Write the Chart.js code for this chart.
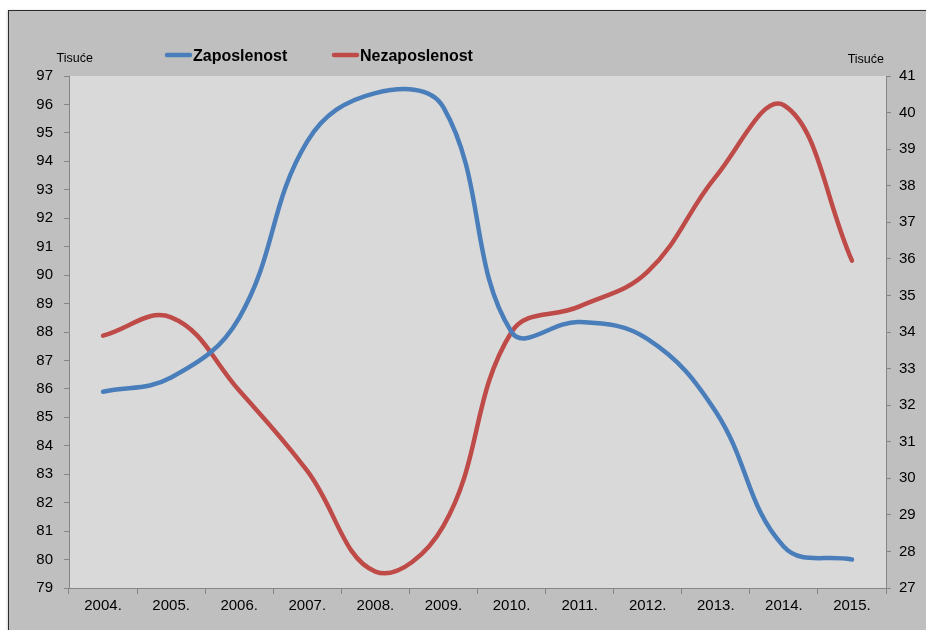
<!DOCTYPE html>
<html>
<head>
<meta charset="utf-8">
<script src="https://cdn.jsdelivr.net/npm/chart.js@4.4.1/dist/chart.umd.min.js"></script>
<style>
  html, body { margin: 0; padding: 0; background: #ffffff; }
  body { width: 926px; height: 630px; position: relative; overflow: hidden; }
  #frame {
    position: absolute; left: 8px; top: 10px; width: 940px; height: 640px;
    background: #bfbfbf; border-left: 1.5px solid #2b2b2b; border-top: 1.5px solid #2b2b2b;
    box-shadow: -1px 0 2px rgba(0,0,0,0.15);
  }
  #wrap { position: absolute; left: 0; top: 0; width: 926px; height: 630px; }
</style>
</head>
<body>
<div id="frame"></div>
<div id="wrap"><canvas id="c" width="926" height="630"></canvas></div>
<script>
const categories = ['2004.', '2005.', '2006.', '2007.', '2008.', '2009.', '2010.', '2011.', '2012.', '2013.', '2014.', '2015.'];
const zaposlenost = [85.9, 86.4, 88.5, 94.7, 96.4, 95.9, 88.0, 88.35, 87.75, 85.2, 80.45, 80.0];
const nezaposlenost = [33.9, 34.4, 32.4, 30.2, 27.45, 28.7, 34.0, 34.7, 35.65, 38.25, 40.2, 35.95];
const seriesNames = ['Zaposlenost', 'Nezaposlenost'];
const unitLabel = 'Tisuće';

const FONT = '"Liberation Sans", Arial, sans-serif';
const BLUE = '#4a7ebb';
const RED = '#be4b48';
const AXIS = '#868686';

const overlay = {
  id: 'overlay',
  beforeDraw(chart) {
    const { ctx, chartArea: a } = chart;
    ctx.save();
    ctx.fillStyle = '#d9d9d9';
    ctx.fillRect(a.left, a.top, a.right - a.left, a.bottom - a.top);
    ctx.restore();
  },
  afterDraw(chart) {
    const { ctx, chartArea: a } = chart;
    ctx.save();
    ctx.fillStyle = '#000';
    ctx.font = '12.5px ' + FONT;
    ctx.textBaseline = 'alphabetic';
    ctx.textAlign = 'left';
    ctx.fillText(unitLabel, a.left - 12.5, a.top - 14);
    ctx.textAlign = 'right';
    ctx.fillText(unitLabel, a.right - 2, a.top - 13);
    const items = [
      { x: 165, color: chart.data.datasets[0].borderColor, text: chart.data.datasets[0].label },
      { x: 332, color: chart.data.datasets[1].borderColor, text: chart.data.datasets[1].label }
    ];
    ctx.font = 'bold 16px ' + FONT;
    ctx.textAlign = 'left';
    items.forEach(it => {
      ctx.strokeStyle = it.color;
      ctx.lineWidth = 4.5;
      ctx.lineCap = 'round';
      ctx.beginPath();
      ctx.moveTo(it.x + 2, a.top - 21);
      ctx.lineTo(it.x + 25, a.top - 21);
      ctx.stroke();
      ctx.fillStyle = '#000';
      ctx.fillText(it.text, it.x + 28, a.top - 15);
    });
    ctx.restore();
  }
};

new Chart(document.getElementById('c'), {
  type: 'line',
  data: {
    labels: categories,
    datasets: [
      {
        label: seriesNames[0], data: zaposlenost, yAxisID: 'y',
        borderColor: BLUE, backgroundColor: BLUE, borderWidth: 4.5,
        borderCapStyle: 'round', borderJoinStyle: 'round',
        pointRadius: 0, pointHoverRadius: 0, tension: 0.4, fill: false
      },
      {
        label: seriesNames[1], data: nezaposlenost, yAxisID: 'y1',
        borderColor: RED, backgroundColor: RED, borderWidth: 4.5,
        borderCapStyle: 'round', borderJoinStyle: 'round',
        pointRadius: 0, pointHoverRadius: 0, tension: 0.4, fill: false
      }
    ]
  },
  options: {
    responsive: false,
    devicePixelRatio: 1,
    animation: false,
    layout: { padding: { top: 76, left: 0, right: 0, bottom: 0 } },
    plugins: { legend: { display: false }, tooltip: { enabled: false } },
    scales: {
      x: {
        type: 'category',
        offset: true,
        grid: { offset: true, drawOnChartArea: false, tickLength: 6, color: AXIS },
        border: { color: AXIS, width: 1 },
        ticks: { font: { family: FONT, size: 15 }, color: '#000', padding: 3, maxRotation: 0, autoSkip: false },
        afterFit(s) { s.height = 42; }
      },
      y: {
        position: 'left',
        min: 79, max: 97,
        grid: { drawOnChartArea: false, tickLength: 5, color: AXIS },
        border: { color: AXIS, width: 1 },
        ticks: { stepSize: 1, font: { family: FONT, size: 15 }, color: '#000', padding: 11 },
        afterFit(s) { s.width = 69; }
      },
      y1: {
        position: 'right',
        min: 27, max: 41,
        grid: { drawOnChartArea: false, tickLength: 5, color: AXIS },
        border: { color: AXIS, width: 1 },
        ticks: { stepSize: 1, font: { family: FONT, size: 15 }, color: '#000', padding: 8 },
        afterFit(s) { s.width = 40; }
      }
    }
  },
  plugins: [overlay]
});
</script>
</body>
</html>
